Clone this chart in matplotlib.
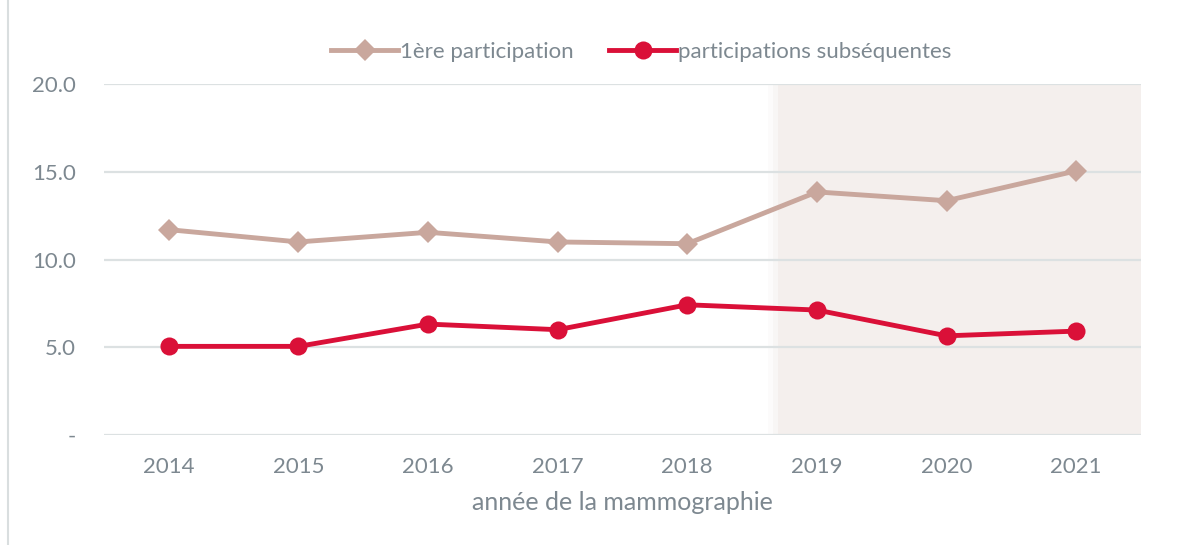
import matplotlib
matplotlib.use("Agg")
import matplotlib.pyplot as plt
import numpy as np

years = ["2014", "2015", "2016", "2017", "2018", "2019", "2020", "2021"]
first_participation = [11.7, 11.0, 11.55, 11.0, 10.9, 13.85, 13.35, 15.05]
subsequent = [5.05, 5.05, 6.32, 6.0, 7.42, 7.12, 5.65, 5.92]
y_ticks = [0, 5, 10, 15, 20]
y_tick_labels = ["-", "5.0", "10.0", "15.0", "20.0"]
series_names = ["1ère participation", "participations subséquentes"]

plt.rcParams['font.family'] = ['Lato', 'DejaVu Sans']
text_color = "#7D8890"
grid_color = "#DCE1E2"
beige = "#C9A79D"
red = "#DA1038"
shade = "#F4EFED"

fig = plt.figure(figsize=(11.97, 5.45), dpi=100)
ax = fig.add_axes([104/1197, 1 - 435/545, (1141-104)/1197, (435-84)/545])

x = np.arange(len(years))
ax.set_xlim(-0.5, len(years) - 0.5)
ax.set_ylim(0, 20)

# shaded region (2019-2021) with soft left edge
x0 = 4.70
ax.axvspan(x0, len(years) - 0.5, color=shade, lw=0, zorder=0)
ax.axvspan(x0 - 0.08, x0 - 0.04, color="#FCFBFB", lw=0, zorder=0)
ax.axvspan(x0 - 0.04, x0, color="#F8F6F5", lw=0, zorder=0)

for yt in y_ticks:
    ax.axhline(yt, color=grid_color, lw=1.6, zorder=1)

ax.plot(x, first_participation, color=beige, lw=3.5, marker="D", ms=11,
        markeredgewidth=0, label=series_names[0], zorder=3)
ax.plot(x, subsequent, color=red, lw=3.5, marker="o", ms=13,
        markeredgewidth=0, label=series_names[1], zorder=3)

ax.set_xticks(x)
ax.set_xticklabels(years)
ax.set_yticks(y_ticks)
ax.set_yticklabels(y_tick_labels)
ax.tick_params(axis="both", length=0, labelsize=16, colors=text_color)
ax.tick_params(axis="x", pad=16)
ax.tick_params(axis="y", pad=20)
for lab in ax.get_yticklabels():
    lab.set_horizontalalignment("right")
for s in ax.spines.values():
    s.set_visible(False)

ax.set_xlabel("année de la mammographie", fontsize=18, color=text_color, labelpad=10)

leg = fig.legend(loc="center", bbox_to_anchor=(0.536, 1 - 52/545), ncol=2, frameon=False,
                 fontsize=16, handlelength=3.0, columnspacing=1.6, handletextpad=0.1)
for t in leg.get_texts():
    t.set_color(text_color)

# left frame line
fig.add_artist(plt.Line2D([8/1197, 8/1197], [0, 1], color="#D9DEDF", lw=1.5))

fig.savefig("out.png", dpi=100)
